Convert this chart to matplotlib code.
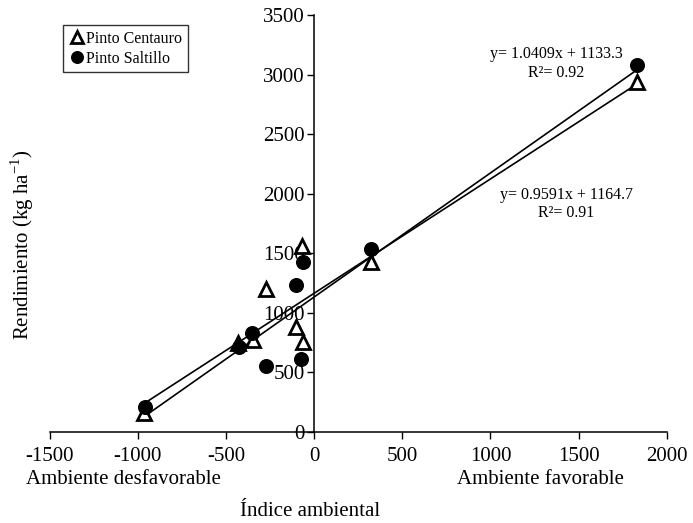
import matplotlib
matplotlib.use("Agg")
import matplotlib.pyplot as plt
import numpy as np

plt.rcParams['font.family'] = ['Liberation Serif', 'DejaVu Serif']
plt.rcParams['axes.unicode_minus'] = False
plt.rcParams['mathtext.fontset'] = 'custom'
plt.rcParams['mathtext.rm'] = 'Liberation Serif'

# Data
centauro_x = [-963, -434, -348, -272, -70, -102, -66, 323, 1833]
centauro_y = [160, 748, 773, 1199, 1563, 880, 759, 1431, 2935]
saltillo_x = [-958, -424, -354, -272, -102, -65, -74, 323, 1833]
saltillo_y = [213, 717, 829, 557, 1235, 1423, 611, 1535, 3084]

fit_saltillo = (1.0409, 1133.3)
fit_centauro = (0.9591, 1164.7)
eq_saltillo = "y= 1.0409x + 1133.3\nR²= 0.92"
eq_centauro = "y= 0.9591x + 1164.7\nR²= 0.91"

xticks = [-1500, -1000, -500, 0, 500, 1000, 1500, 2000]
yticks = [0, 500, 1000, 1500, 2000, 2500, 3000, 3500]

fig = plt.figure(figsize=(6.93, 5.23), dpi=100)
ax = fig.add_axes([49.8/693, 1-432/523, (666.7-49.8)/693, (432-15)/523])

# regression lines
for xs, (m, b) in [(saltillo_x, fit_saltillo), (centauro_x, fit_centauro)]:
    xl = np.array([min(xs), max(xs)])
    ax.plot(xl, m*xl + b, color='black', lw=1.2, zorder=2)

ax.plot(centauro_x, centauro_y, linestyle='none', marker='^', markersize=10,
        markerfacecolor='white', markeredgecolor='black', markeredgewidth=2,
        label='Pinto Centauro', zorder=3)
ax.plot(saltillo_x, saltillo_y, linestyle='none', marker='o', markersize=9.8,
        markerfacecolor='black', markeredgecolor='black',
        label='Pinto Saltillo', zorder=4)

ax.set_xlim(-1500, 2000)
ax.set_ylim(0, 3500)
ax.set_xticks(xticks)
ax.set_yticks(yticks)
ax.tick_params(labelsize=15, width=1, length=5, direction='out', colors='black')
ax.tick_params(axis='x', pad=6)
ax.tick_params(axis='y', pad=2)

ax.spines['left'].set_position(('data', 0))
ax.spines['bottom'].set_position(('data', 0))
ax.spines['top'].set_visible(False)
ax.spines['right'].set_visible(False)
for s in ['left', 'bottom']:
    ax.spines[s].set_linewidth(1.1)

ax.text(1374, 3094, eq_saltillo, ha='center', va='center', fontsize=11.5,
        linespacing=1.2)
ax.text(1431, 1914, eq_centauro, ha='center', va='center', fontsize=11.5,
        linespacing=1.15)

leg = ax.legend(loc='upper left', bbox_to_anchor=(63/693, 1-25/523),
                bbox_transform=fig.transFigure, fontsize=11.5, frameon=True,
                fancybox=False, edgecolor='black', borderaxespad=0,
                handletextpad=0.1, handlelength=1.0, borderpad=0.35,
                labelspacing=0.25, markerscale=0.85)
leg.get_frame().set_linewidth(1.0)

fig.text(22/693, 1-245/523, 'Rendimiento (kg ha$^{\\mathrm{-1}}$)', rotation=90,
         ha='center', va='center', fontsize=15)
fig.text(123/693, 1-480/523, 'Ambiente desfavorable', ha='center', va='center', fontsize=15)
fig.text(540/693, 1-480/523, 'Ambiente favorable', ha='center', va='center', fontsize=15)
fig.text(310/693, 1-512/523, 'Índice ambiental', ha='center', va='center', fontsize=15)

fig.savefig('out.png', dpi=100)
